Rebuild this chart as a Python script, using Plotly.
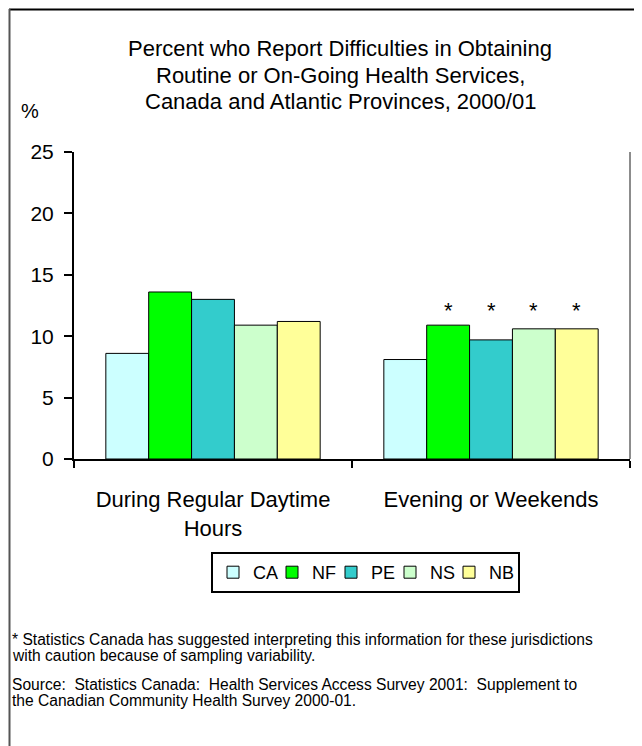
import plotly.graph_objects as go

categories = ["During Regular Daytime<br>Hours", "Evening or Weekends"]
series_names = ["CA", "NF", "PE", "NS", "NB"]
ca_values = [8.6, 8.1]
nf_values = [13.6, 10.9]
pe_values = [13.0, 9.7]
ns_values = [10.9, 10.6]
nb_values = [11.2, 10.6]
caution_flags = {  # asterisk marks per series, per category
    "CA": [False, False],
    "NF": [False, True],
    "PE": [False, True],
    "NS": [False, True],
    "NB": [False, True],
}
y_ticks = [0, 5, 10, 15, 20, 25]
title_lines = [
    "Percent who Report Difficulties in Obtaining",
    "Routine or On-Going Health Services,",
    "Canada and Atlantic Provinces, 2000/01",
]
footnote_lines = [
    "* Statistics Canada has suggested interpreting this information for these jurisdictions",
    "with caution because of sampling variability.",
]
source_lines = [
    "Source:  Statistics Canada:  Health Services Access Survey 2001:  Supplement to",
    "the Canadian Community Health Survey 2000-01.",
]

colors = ["#CCFFFF", "#00FF00", "#33CCCC", "#CCFFCC", "#FFFF99"]
all_values = [ca_values, nf_values, pe_values, ns_values, nb_values]

FONT = "Liberation Sans, Arial, sans-serif"
W, H = 642, 746
ML, MR, MT, MB = 66, 20, 144, 295
PW = W - ML - MR
PH = H - MT - MB
BARGAP = 0.229

fig = go.Figure()
for k, (name, vals, col) in enumerate(zip(series_names, all_values, colors)):
    fig.add_trace(go.Bar(
        x=categories, y=vals, name=name,
        marker=dict(color=col, line=dict(color="#000000", width=1)),
        hoverinfo="x+y+name",
        legendwidth=14 if k < len(series_names) - 1 else 24,
    ))

def px_x(px):
    return (px - ML) / PW

def px_y(py):
    return (H - MB - py) / PH

annotations = []
# asterisks for sampling variability
cat_px = PW / len(categories)
bar_px = cat_px * (1 - BARGAP) / len(series_names)
for ci, cat in enumerate(categories):
    flagged = [i for i, n in enumerate(series_names) if caution_flags[n][ci]]
    if not flagged:
        continue
    top = max(v[ci] for v in all_values)
    for i in flagged:
        annotations.append(dict(
            x=cat, y=top + 1.2, xref="x", yref="y", text="*", showarrow=False,
            xshift=(i - (len(series_names) - 1) / 2) * bar_px,
            font=dict(family=FONT, size=22, color="#000000"),
        ))

for line, py in zip(title_lines, [40, 67, 94]):
    annotations.append(dict(
        x=px_x(332), y=px_y(py), xref="paper", yref="paper", showarrow=False,
        xanchor="center", yanchor="middle", text=line,
        font=dict(family=FONT, size=22, color="#000000"),
    ))
annotations.append(dict(
    x=px_x(22), y=px_y(103), xref="paper", yref="paper", showarrow=False,
    xanchor="center", yanchor="middle", text="%",
    font=dict(family=FONT, size=20, color="#000000"),
))
for line, py in zip(footnote_lines + source_lines, [631, 647, 676, 692]):
    annotations.append(dict(
        x=px_x(2), y=px_y(py), xref="paper", yref="paper", showarrow=False,
        xanchor="left", yanchor="middle", align="left", text=line,
        font=dict(family=FONT, size=15.6, color="#000000"),
    ))

shapes = [
    # right edge of plot area
    dict(type="line", xref="x domain", yref="y", x0=1, x1=1, y0=0, y1=25,
         line=dict(color="#8C8C8C", width=2)),
    # outer frame (top and left)
    dict(type="line", xref="paper", yref="paper", x0=px_x(1), x1=px_x(642),
         y0=px_y(1.5), y1=px_y(1.5), line=dict(color="#000000", width=2)),
    dict(type="line", xref="paper", yref="paper", x0=px_x(1.5), x1=px_x(1.5),
         y0=px_y(1), y1=px_y(746), line=dict(color="#555555", width=2)),
]

fig.update_layout(
    width=W, height=H,
    margin=dict(l=ML, r=MR, t=MT, b=MB, pad=0, autoexpand=False),
    paper_bgcolor="#FFFFFF", plot_bgcolor="#FFFFFF",
    barmode="group", bargap=BARGAP, bargroupgap=0,
    font=dict(family=FONT, color="#000000"),
    showlegend=True,
    legend=dict(
        orientation="h", x=px_x(203), y=px_y(544), xanchor="left", yanchor="top",
        xref="paper", yref="paper",
        font=dict(family=FONT, size=18, color="#000000"),
        bordercolor="#000000", borderwidth=2, bgcolor="#FFFFFF",
        itemwidth=30, traceorder="normal",
    ),
    annotations=annotations,
    shapes=shapes,
)
fig.update_xaxes(
    showline=True, linecolor="#000000", linewidth=2, automargin=False,
    ticks="outside", tickson="boundaries", ticklen=7, tickwidth=2, tickcolor="#000000",
    tickfont=dict(family=FONT, size=22, color="#000000"),
    ticklabelstandoff=20, showgrid=False, zeroline=False,
)
fig.update_yaxes(
    range=[0, 25], tickvals=y_ticks, ticktext=[str(t) for t in y_ticks],
    showline=True, linecolor="#000000", linewidth=2, automargin=False,
    ticks="outside", ticklen=8, tickwidth=2, tickcolor="#000000",
    tickfont=dict(family=FONT, size=21, color="#000000"),
    ticklabelstandoff=6, showgrid=False, zeroline=False,
)

fig.write_html("out.html")
